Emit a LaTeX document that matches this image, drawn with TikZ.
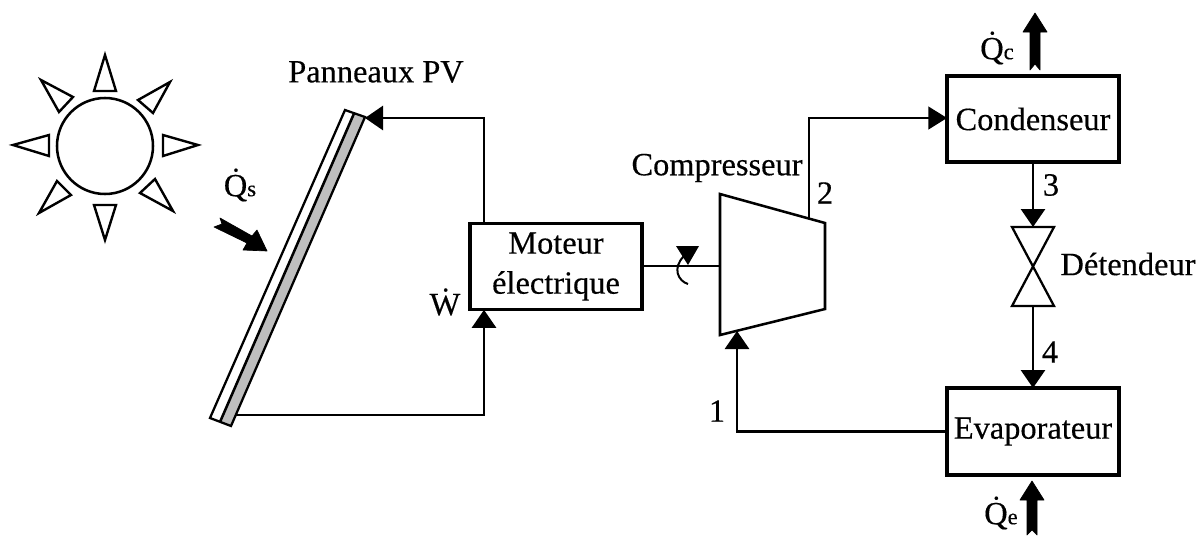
\documentclass[tikz,border=0pt]{standalone}
\usepackage{fontspec}
\setmainfont[FakeBold=0.35]{Liberation Serif}
\usetikzlibrary{arrows.meta}
\definecolor{panelgray}{RGB}{190,190,190}
\tikzset{
  lbl/.style={inner sep=0pt,outer sep=0pt,font=\fontsize{24.3}{30}\selectfont},
  box/.style={draw,line width=2.4pt,inner sep=0pt,outer sep=0pt,align=center,font=\fontsize{24.3}{30}\selectfont},
  thin outline/.style={draw,line width=1.7pt,line join=miter},
  conn/.style={line width=2.1pt,-{Triangle[length=13.5pt,width=18pt]}},
  plainconn/.style={line width=2.1pt},
  fat/.style={fill=black,draw=black,line width=0.5pt,line join=round},
  ray/.style={draw,line width=1.8pt,line join=miter,fill=white},
}
\newcommand{\QDot}[1]{\.{Q}{\fontsize{17}{17}\selectfont #1}}
\begin{document}
\begin{tikzpicture}[x=0.75pt,y=-0.75pt]
\useasboundingbox (0,0) rectangle (1198,536);
% Sun
\node[circle,draw,line width=1.9pt,minimum size=72pt,inner sep=0pt,outer sep=0pt] (sun) at (105,146) {};
\draw[ray] (105,55) -- (116,91) -- (94,91) -- cycle;
\draw[ray] (198,145) -- (163,135) -- (163,156) -- cycle;
\draw[ray] (13,145) -- (49,135) -- (49,156) -- cycle;
\draw[ray] (105,240) -- (94,205) -- (116,205) -- cycle;
\draw[ray] (170,82) -- (138,100) -- (153,113) -- cycle;
\draw[ray] (41,80) -- (73,97) -- (59,112) -- cycle;
\draw[ray] (39,213) -- (57,181) -- (71,195) -- cycle;
\draw[ray] (173,211) -- (155,179) -- (140,193) -- cycle;
% Panel
\fill[panelgray] (354,113.5) -- (365,117) -- (231,426) -- (220,422) -- cycle;
\draw[thin outline] (345,110) -- (365,117) -- (231,426) -- (210,418) -- cycle;
\draw[line width=1.9pt] (354,113.5) -- (220,422);
\coordinate (panelTop) at (365,118);
\coordinate (panelBot) at (236,415);
% Boxes
\node[box,minimum width=129pt,minimum height=65pt] (moteur) at (556,266.5) {Moteur\\électrique};
\node[box,minimum width=129pt,minimum height=64.5pt] (cond) at (1033,119) {Condenseur};
\node[box,minimum width=129pt,minimum height=65.25pt] (evap) at (1033,431.5) {Evaporateur};
% Compressor
\draw[line width=1.9pt,line join=miter] (720,194) -- (825,223) -- (825,309) -- (720,335) -- cycle;
\coordinate (compLeft) at (720,266);
\coordinate (compIn) at (737,331);
\coordinate (compOut) at (809,219);
% Valve
\coordinate (valveTop) at (1033,227);
\coordinate (valveBot) at (1033,306);
\draw[line width=1.7pt,line join=miter] (1012,227) -- (1054,227) -- (1012,306) -- (1054,306) -- cycle;
% Connectors
\draw[conn] (moteur.north -| 484,0) -- (484,118) -- (panelTop);
\draw[conn] (panelBot) -| (moteur.south -| 484,0);
\draw[plainconn] (moteur.east |- compLeft) -- (compLeft);
\draw[conn] (evap.west) -| (compIn);
\draw[line width=1.7pt,-{Triangle[length=14pt,width=17pt]}] (compOut) -- (809,118) -- (cond.west |- 0,118);
\draw[conn] (cond.south) -- (valveTop);
\draw[conn] (valveBot) -- (evap.north);
% Rotation mark
\draw[line width=1.5pt] (688,284) .. controls (678,281) and (672,268) .. (684,256);
\fill[black] (676,246) -- (699,246) -- (688,265) -- cycle;
% Fat arrows
\draw[fat] (1035,13) -- (1047,32) -- (1040,32) -- (1040,70) -- (1035,64) -- (1030,70) -- (1030,32) -- (1023,32) -- cycle;
\draw[fat] (1032,481) -- (1044,500) -- (1037,500) -- (1037,535) -- (1032,530) -- (1027,535) -- (1027,500) -- (1020,500) -- cycle;
\draw[fat] (267,251) -- (243,250) -- (247,243) -- (214,227) -- (222,224) -- (220,218) -- (252,236) -- (257,230) -- cycle;
% Labels
\node[lbl] (pv) at (376,72) {Panneaux PV};
\node[lbl] (comp) at (717,168) {Compresseur};
\node[lbl] (det) at (1128,264) {Détendeur};
\node[lbl] (n1) at (717,411) {1};
\node[lbl] (n2) at (825,193) {2};
\node[lbl] (n3) at (1051,185) {3};
\node[lbl] (n4) at (1050,352) {4};
\node[lbl] (qs) at (240,185) {\QDot{s}};
\node[lbl] (qc) at (997,48) {\QDot{c}};
\node[lbl] (qe) at (1001,513) {\QDot{e}};
\node[lbl] (w) at (445,302) {\.{W}};
\end{tikzpicture}
\end{document}
